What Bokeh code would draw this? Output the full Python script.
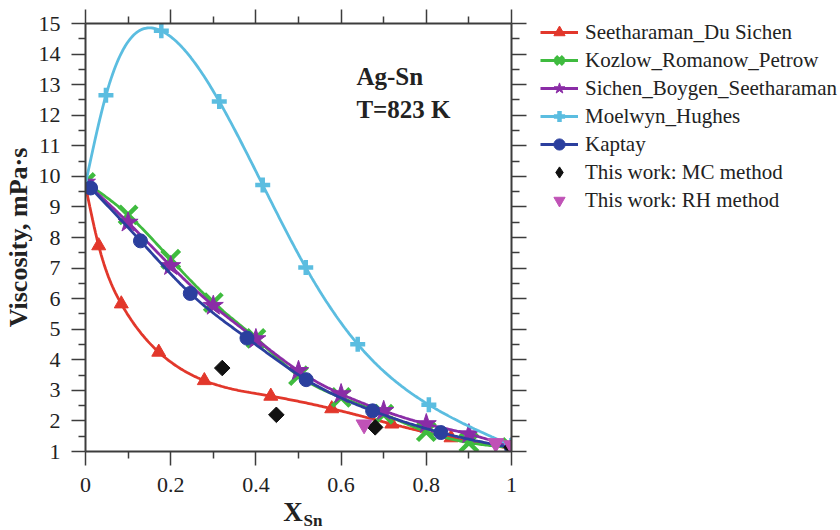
import numpy as np
from math import pi
from bokeh.plotting import figure
from bokeh.models import Range1d, FixedTicker, LinearAxis, Label, Legend, LegendItem
from bokeh.embed import file_html
from bokeh.resources import INLINE

# ---------------- data ----------------
sds_x = [0.0, 0.031, 0.084, 0.172, 0.279, 0.435, 0.578, 0.719, 0.858, 1.0]
sds_y = [9.69, 7.73, 5.83, 4.25, 3.32, 2.81, 2.40, 1.90, 1.45, 1.10]

krp_x = [0.0, 0.1, 0.2, 0.3, 0.4, 0.5, 0.6, 0.7, 0.8, 0.9, 1.0]
krp_y = [9.80, 8.74, 7.29, 5.87, 4.70, 3.48, 2.77, 2.22, 1.65, 1.29, 1.13]

sbs_x = [0.0, 0.1, 0.2, 0.3, 0.4, 0.5, 0.6, 0.7, 0.8, 0.9, 1.0]
sbs_y = [9.80, 8.49, 7.07, 5.77, 4.68, 3.64, 2.88, 2.33, 1.90, 1.57, 1.15]

mh_x = [0.0, 0.048, 0.178, 0.314, 0.416, 0.517, 0.639, 0.806, 1.0]
mh_y = [9.75, 12.65, 14.76, 12.45, 9.72, 7.02, 4.51, 2.53, 1.20]

kap_x = [0.012, 0.129, 0.246, 0.379, 0.518, 0.674, 0.834, 1.0]
kap_y = [9.62, 7.89, 6.17, 4.71, 3.35, 2.33, 1.62, 1.12]

mc_x = [0.321, 0.448, 0.680, 1.0]
mc_y = [3.73, 2.20, 1.79, 1.14]

rh_x = [0.654, 0.963, 1.0]
rh_y = [1.88, 1.27, 1.20]

x_ticks = [0, 0.2, 0.4, 0.6, 0.8, 1.0]
x_tick_labels = ["0", "0.2", "0.4", "0.6", "0.8", "1"]
y_ticks = list(range(1, 16))
y_tick_labels = [str(v) for v in y_ticks]

# ---------------- helpers ----------------
def natural_spline(xs, ys, n=300):
    x = np.asarray(xs, float)
    y = np.asarray(ys, float)
    m = len(x)
    h = np.diff(x)
    A = np.zeros((m, m))
    b = np.zeros(m)
    A[0, 0] = 1.0
    A[-1, -1] = 1.0
    for i in range(1, m - 1):
        A[i, i - 1] = h[i - 1]
        A[i, i] = 2 * (h[i - 1] + h[i])
        A[i, i + 1] = h[i]
        b[i] = 6 * ((y[i + 1] - y[i]) / h[i] - (y[i] - y[i - 1]) / h[i - 1])
    M = np.linalg.solve(A, b)
    xx = np.linspace(x[0], x[-1], n)
    idx = np.clip(np.searchsorted(x, xx) - 1, 0, m - 2)
    x0, x1 = x[idx], x[idx + 1]
    hh = x1 - x0
    t0 = x1 - xx
    t1 = xx - x0
    yy = (M[idx] * t0 ** 3 / (6 * hh) + M[idx + 1] * t1 ** 3 / (6 * hh)
          + (y[idx] / hh - M[idx] * hh / 6) * t0
          + (y[idx + 1] / hh - M[idx + 1] * hh / 6) * t1)
    return xx, yy

FONT = "Liberation Serif"
AXC = "#3c3c3c"
TXT = "#222222"

RED = "#e2372b"
GREEN = "#3fbb3f"
PURPLE = "#8a2ca6"
LBLUE = "#5bbde0"
NAVY = "#2b3f9e"
MAG = "#c052b6"
BLK = "#111111"

p = figure(frame_width=426, frame_height=428,
           min_border_left=85, min_border_top=23, min_border_right=328, min_border_bottom=79,
           x_range=Range1d(0, 1), y_range=Range1d(1, 15),
           output_backend="svg", toolbar_location=None)
p.grid.visible = False
p.outline_line_color = None
p.background_fill_color = "white"
p.border_fill_color = "white"

x_minor = [round(v, 2) for v in np.arange(0.1, 1.0, 0.2)]
y_minor = [v + 0.5 for v in range(1, 15)]
xt = FixedTicker(ticks=x_ticks, minor_ticks=x_minor)
yt = FixedTicker(ticks=y_ticks, minor_ticks=y_minor)


def style_axis(ax, ticker, labels=None):
    ax.ticker = ticker
    ax.axis_line_color = AXC
    ax.axis_line_width = 2
    ax.major_tick_line_color = AXC
    ax.major_tick_line_width = 1.5
    ax.minor_tick_line_color = AXC
    ax.minor_tick_line_width = 1.5
    ax.major_tick_in = 0
    ax.major_tick_out = 14
    ax.minor_tick_in = 0
    ax.minor_tick_out = 7
    if labels is None:
        ax.major_label_text_font_size = "0px"
        ax.major_label_text_alpha = 0
        ax.major_label_standoff = 0
    else:
        ax.major_label_overrides = labels
        ax.major_label_text_font = FONT
        ax.major_label_text_font_size = "22px"
        ax.major_label_text_color = TXT
        ax.major_label_standoff = 7
    ax.axis_label_text_font = FONT
    ax.axis_label_text_font_style = "bold"
    ax.axis_label_text_color = TXT


xax = p.xaxis[0]
yax = p.yaxis[0]
style_axis(xax, xt, {v: s for v, s in zip(x_ticks, x_tick_labels)})
style_axis(yax, yt, {v: s for v, s in zip(y_ticks, y_tick_labels)})
yax.major_label_standoff = 11
xax.major_label_standoff = 12
xax.axis_label = "X\u2009\u2009"
xax.axis_label_text_font_size = "27px"
xax.axis_label_standoff = 2
yax.axis_label = "Viscosity, mPa\u00b7s"
yax.axis_label_text_font_size = "26px"
yax.axis_label_standoff = 3

top = LinearAxis()
style_axis(top, xt)
right = LinearAxis()
style_axis(right, yt)
right.major_tick_out = 15
right.minor_tick_out = 8
p.add_layout(top, "above")
p.add_layout(right, "right")

# subscript of the x-axis title, as the label of an invisible extra axis
sub = LinearAxis(ticker=FixedTicker(ticks=[]), axis_label="\u2003\u2002\u2009Sn")
sub.axis_line_color = None
sub.major_tick_out = 0
sub.minor_tick_out = 0
sub.major_tick_in = 0
sub.minor_tick_in = 0
sub.major_label_text_font_size = "0px"
sub.major_label_standoff = 0
sub.axis_label_text_font = FONT
sub.axis_label_text_font_style = "bold"
sub.axis_label_text_font_size = "17px"
sub.axis_label_text_color = TXT
sub.axis_label_standoff = -19
p.add_layout(sub, "below")

# ---------------- series ----------------
LW = 2.8

def series(xs, ys, color, marker, size, lw_marker=1.0):
    xx, yy = natural_spline(xs, ys)
    ln = p.line(xx, yy, line_color=color, line_width=LW)
    sc = p.scatter(xs, ys, marker=marker, size=size, line_color=color,
                   fill_color=color, line_width=lw_marker)
    return [ln, sc]

r_sds = series(sds_x, sds_y, RED, "triangle", 14)
r_krp = series(krp_x, krp_y, GREEN, "x", 25, lw_marker=4.5)
r_sbs = series(sbs_x, sbs_y, PURPLE, "star", 21)
r_mh = series(mh_x, mh_y, LBLUE, "cross", 15, lw_marker=4.5)
r_kap = series(kap_x, kap_y, NAVY, "circle", 14)
# narrow diamonds (hidden under the rotated squares) serve as the legend swatch
r_mc_key = p.scatter(mc_x, mc_y, marker="diamond", size=11, fill_color=BLK, line_color=BLK)
r_mc = p.scatter(mc_x, mc_y, marker="square", size=11, angle=pi / 4,
                 fill_color=BLK, line_color=BLK)
r_rh = p.scatter(rh_x, rh_y, marker="inverted_triangle", size=16,
                 fill_color=MAG, line_color=MAG)

legend = Legend(items=[
    LegendItem(label="Seetharaman_Du Sichen", renderers=r_sds),
    LegendItem(label="Kozlow_Romanow_Petrow", renderers=r_krp),
    LegendItem(label="Sichen_Boygen_Seetharaman", renderers=r_sbs),
    LegendItem(label="Moelwyn_Hughes", renderers=r_mh),
    LegendItem(label="Kaptay", renderers=r_kap),
    LegendItem(label="This work: MC method", renderers=[r_mc_key]),
    LegendItem(label="This work: RH method", renderers=[r_rh]),
])
legend.padding = 0
legend.margin = 0
legend.spacing = 0
legend.glyph_width = 38
legend.glyph_height = 28
legend.label_height = 24
legend.label_standoff = 7
legend.border_line_alpha = 0
legend.background_fill_alpha = 0
legend.label_text_font = FONT
legend.label_text_font_size = "21px"
legend.label_text_color = TXT
legend.label_text_baseline = "middle"
legend.location = (-217, 237)
p.add_layout(legend, "right")

# ---------------- texts ----------------
for txt, yv in [("Ag-Sn", 13.27), ("T=823 K", 12.19)]:
    p.add_layout(Label(x=0.636, y=yv, text=txt, text_font=FONT, text_font_style="bold",
                       text_font_size="25px", text_color=TXT, text_baseline="alphabetic"))

open("out.html", "w").write(file_html(p, INLINE))
